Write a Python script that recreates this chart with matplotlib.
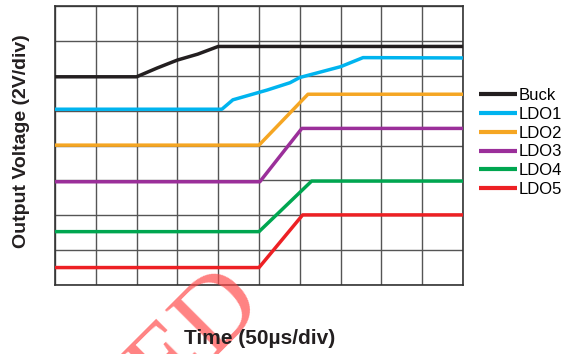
import matplotlib
matplotlib.use("Agg")
import matplotlib.pyplot as plt
import numpy as np

# Time in divisions (50 us/div), voltage in divisions (2 V/div)
series_names = ["Buck", "LDO1", "LDO2", "LDO3", "LDO4", "LDO5"]
series_colors = ["#231f20", "#00b4ef", "#f5a623", "#9b2f9a", "#00a650", "#ed2024"]

buck_t = [0.0, 2.0, 2.5, 3.0, 3.5, 4.0, 10.0]
buck_v = [5.97, 5.97, 6.22, 6.45, 6.62, 6.84, 6.84]

ldo1_t = [0.0, 4.09, 4.36, 5.2, 5.76, 6.0, 7.0, 7.55, 10.0]
ldo1_v = [5.04, 5.04, 5.31, 5.59, 5.80, 5.95, 6.26, 6.52, 6.51]

ldo2_t = [0.0, 5.0, 6.2, 10.0]
ldo2_v = [4.01, 4.01, 5.47, 5.47]

ldo3_t = [0.0, 5.02, 6.05, 10.0]
ldo3_v = [2.96, 2.96, 4.49, 4.49]

ldo4_t = [0.0, 5.0, 6.29, 10.0]
ldo4_v = [1.53, 1.53, 2.98, 2.98]

ldo5_t = [0.0, 5.0, 6.07, 10.0]
ldo5_v = [0.50, 0.50, 2.01, 2.01]

series_t = [buck_t, ldo1_t, ldo2_t, ldo3_t, ldo4_t, ldo5_t]
series_v = [buck_v, ldo1_v, ldo2_v, ldo3_v, ldo4_v, ldo5_v]

x_label = "Time (50µs/div)"
y_label = "Output Voltage (2V/div)"

plt.rcParams['font.family'] = ['Liberation Sans', 'DejaVu Sans']

W, H = 577, 354
fig = plt.figure(figsize=(W / 100, H / 100), dpi=100)
ax = fig.add_axes([55 / W, 1 - 285 / H, (463 - 55) / W, (285 - 6) / H])

ax.set_xlim(0, 10)
ax.set_ylim(0, 8)
ax.set_xticks(np.arange(0, 11, 1))
ax.set_yticks(np.arange(0, 9, 1))
ax.tick_params(left=False, bottom=False, labelleft=False, labelbottom=False)
ax.grid(True, color="#555555", linewidth=1.0)
ax.set_axisbelow(True)
for s in ax.spines.values():
    s.set_color("#333333")
    s.set_linewidth(1.2)

for name, col, t, v in zip(series_names, series_colors, series_t, series_v):
    ax.plot(t, v, color=col, linewidth=2.5, label=name, solid_capstyle='butt', zorder=3)

leg = ax.legend(loc="upper left", bbox_to_anchor=(479 / W, 1 - 88 / H),
                bbox_transform=fig.transFigure, frameon=False,
                fontsize=12, borderpad=0, borderaxespad=0,
                handlelength=2.3, handletextpad=0.1, labelspacing=0.23)
for line in leg.get_lines():
    line.set_linewidth(3.0)

# faint watermark fragment
fig.text(198 / W, 1 - 336 / H, "ED", rotation=45, ha="center", va="center",
         fontsize=76, family="Liberation Serif", color="#ff4d4d", alpha=0.7, zorder=0)

fig.text(22 / W, 1 - 141 / H, y_label, rotation=90, ha="center", va="center",
         fontsize=14, fontweight="bold", color="#231f20")
fig.text(260 / W, 1 - 338 / H, x_label, ha="center", va="center",
         fontsize=15, fontweight="bold", color="#231f20")

fig.savefig("out.png", dpi=100)
